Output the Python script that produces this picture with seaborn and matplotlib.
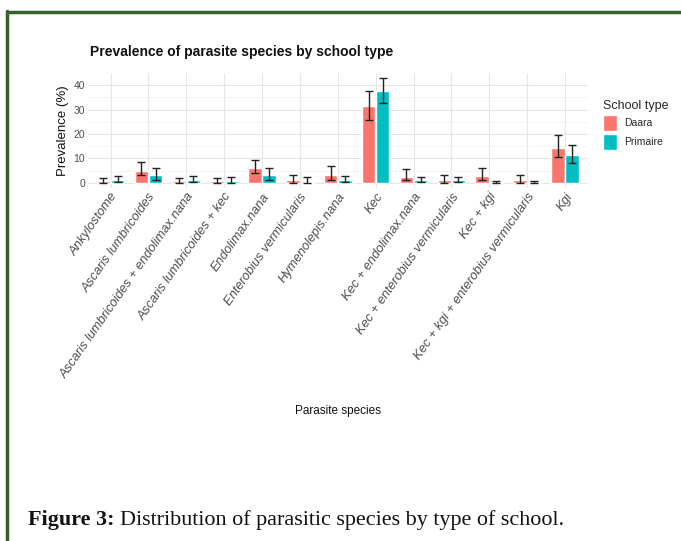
import numpy as np
import pandas as pd
import matplotlib
matplotlib.use("Agg")
import matplotlib.pyplot as plt
from matplotlib.lines import Line2D
from matplotlib.ticker import MultipleLocator
import seaborn as sns

species = ["Ankylostome", "Ascaris lumbricoides", "Ascaris lumbricoides + endolimax.nana",
           "Ascaris lumbricoides + kec", "Endolimax.nana", "Enterobius vermicularis",
           "Hymenolepis.nana", "Kec", "Kec + endolimax.nana", "Kec + enterobius vermicularis",
           "Kec + kgi", "Kec + kgi + enterobius vermicularis", "Kgi"]
schools = ["Daara", "Primaire"]
daara_val = [0.7, 4.8, 0.7, 0.7, 6.0, 1.0, 3.3, 31.4, 2.5, 1.0, 2.9, 1.0, 14.3]
daara_lo = [0.1, 3.0, 0.1, 0.1, 3.8, 0.1, 1.1, 25.9, 1.1, 0.1, 1.0, 0.1, 10.6]
daara_hi = [2.0, 8.5, 1.8, 2.0, 9.4, 3.3, 6.7, 37.7, 5.5, 3.1, 6.0, 3.1, 19.4]
prim_val = [1.0, 3.0, 1.0, 0.7, 3.0, 0.5, 1.0, 37.4, 1.0, 1.0, 0.2, 0.2, 11.3]
prim_lo = [0.2, 1.2, 0.2, 0.1, 1.1, 0.05, 0.2, 32.6, 0.2, 0.2, 0.0, 0.0, 8.2]
prim_hi = [2.9, 5.9, 2.9, 2.3, 5.9, 2.2, 2.9, 42.8, 2.5, 2.5, 0.6, 0.6, 15.3]
colors = ["#F8766D", "#00BFC4"]

df = pd.DataFrame({
    "species": species * 2,
    "school": ["Daara"] * len(species) + ["Primaire"] * len(species),
    "prev": daara_val + prim_val,
})
lows = [daara_lo, prim_lo]
highs = [daara_hi, prim_hi]
vals = [daara_val, prim_val]

sns.set_theme(style="whitegrid")
plt.rcParams["font.family"] = ["Liberation Sans", "DejaVu Sans"]

fig = plt.figure(figsize=(6.81, 5.41), dpi=100)
ax = fig.add_axes([0.129, 0.6525, 0.734, 0.2125])
sns.barplot(data=df, x="species", y="prev", hue="school", order=species,
            hue_order=schools, palette=colors, errorbar=None, width=0.75,
            gap=0.05, saturation=1, ax=ax)

bar_conts = list(ax.containers)
for k, cont in enumerate(bar_conts):
    xs = [p.get_x() + p.get_width() / 2 for p in cont.patches]
    v = np.array(vals[k]); lo = np.array(lows[k]); hi = np.array(highs[k])
    ax.errorbar(xs, v, yerr=[v - lo, hi - v], fmt="none", ecolor="#222222",
                elinewidth=1.0, capsize=3, capthick=1.0, zorder=5)

ax.set_xlim(-0.6, 12.6)
ax.set_ylim(-2.14, 44.94)
ax.yaxis.set_major_locator(MultipleLocator(10))
ax.yaxis.set_minor_locator(MultipleLocator(5))
ax.grid(True, which="major", color="#E5E5E5", linewidth=0.8)
ax.grid(True, which="minor", axis="y", color="#F2F2F2", linewidth=0.6)
ax.set_axisbelow(True)
for s in ax.spines.values():
    s.set_visible(False)
ax.set_facecolor("white")
ax.tick_params(axis="both", length=0, pad=2, colors="#4D4D4D", labelsize=7.5)
ax.set_xticks(range(len(species)))
ax.set_xticklabels(species, rotation=55, ha="right", rotation_mode="anchor",
                   style="italic", fontsize=9.3, color="#4D4D4D")
ax.set_xlabel("Parasite species", fontsize=8.5, color="#111111")
ax.set_ylabel("Prevalence (%)", fontsize=9.5, color="#111111", labelpad=3)
ax.xaxis.set_label_coords(0.5, -1.89)

handles, labels = ax.get_legend_handles_labels()
ax.get_legend().remove()
fig.legend(handles, labels, title="School type", loc="upper left",
           bbox_to_anchor=(595 / 681, 1 - 92 / 541), frameon=False, fontsize=7.5,
           title_fontsize=9, handlelength=1.35, handleheight=2.0, labelspacing=0.25,
           handletextpad=0.6, borderpad=0.3, alignment="left")

fig.text(90 / 681, 1 - 52 / 541, "Prevalence of parasite species by school type",
         ha="left", va="center", fontsize=10, fontweight="bold", color="#111111")

green = "#35612d"
fig.add_artist(Line2D([6.5 / 681, 1.0], [1 - 12 / 541, 1 - 12 / 541], color=green,
                      linewidth=2.5, transform=fig.transFigure))
fig.add_artist(Line2D([6.5 / 681, 6.5 / 681], [1 - 11 / 541, 0.0], color=green,
                      linewidth=2.5, transform=fig.transFigure))

t1 = fig.text(28 / 681, 1 - 520 / 541, "Figure 3:", ha="left", va="center",
              fontsize=15.9, fontweight="bold", family="Liberation Serif", color="#111111")
fig.canvas.draw()
bb = t1.get_window_extent()
x2 = (bb.x1 + 5) / fig.bbox.width
fig.text(x2, 1 - 520 / 541, "Distribution of parasitic species by type of school.",
         ha="left", va="center", fontsize=15.9, family="Liberation Serif", color="#111111")

fig.savefig("out.png", dpi=100)
